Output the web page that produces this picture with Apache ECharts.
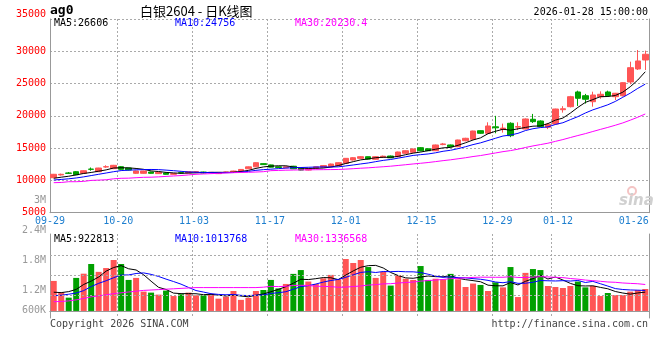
<!DOCTYPE html>
<html><head><meta charset="utf-8">
<script src="https://cdn.jsdelivr.net/npm/echarts@6/dist/echarts.min.js"></script>
<style>html,body{margin:0;padding:0;background:#fff}#c{width:660px;height:360px}</style>
</head><body><div id="c"></div>
<script>
// ---- data ----
const dates = ['09-29','09-30','10-09','10-10','10-13','10-14','10-15','10-16','10-17','10-20',
 '10-21','10-22','10-23','10-24','10-27','10-28','10-29','10-30','10-31','11-03',
 '11-04','11-05','11-06','11-07','11-10','11-11','11-12','11-13','11-14','11-17',
 '11-18','11-19','11-20','11-21','11-24','11-25','11-26','11-27','11-28','12-01',
 '12-02','12-03','12-04','12-05','12-08','12-09','12-10','12-11','12-12','12-15',
 '12-16','12-17','12-18','12-19','12-22','12-23','12-24','12-25','12-26','12-29',
 '12-30','12-31','01-05','01-06','01-07','01-08','01-09','01-12','01-13','01-14',
 '01-15','01-16','01-19','01-20','01-21','01-22','01-23','01-26','01-27','01-28'];
const openP = [10420,10850,11150,11350,11100,11750,11350,12080,11820,12125,
 11920,11100,11100,11300,11050,11150,10950,11200,11150,11300,
 11300,11200,11050,11250,11250,11450,11800,12100,12600,12400,
 12100,11950,12200,11900,11600,11900,12050,12125,12280,12650,
 13160,13420,13675,13270,13600,13780,13675,14200,14350,15070,
 14900,14600,15550,15490,15220,16150,16370,17700,17300,18300,
 17900,18850,18250,17965,19470,19200,18230,18740,20950,21420,
 23700,23120,22190,22970,23700,22970,23120,25245,27260,28650];
const closeP = [10950,10950,11100,10890,11500,11720,11920,12125,12340,11720,
 11615,11460,11460,11100,11250,10950,11050,11150,11350,11350,
 11150,11250,11200,11300,11450,11700,12100,12745,12450,12050,
 12000,12100,11800,11600,11800,12100,12300,12540,12745,13420,
 13520,13675,13300,13675,13750,13500,14400,14600,14870,14600,
 14600,15490,15650,15220,16260,16525,17655,17300,18430,18150,
 18100,16930,18350,19515,19100,18320,18700,21060,21100,22970,
 22720,22570,23230,23340,23120,23500,25140,27460,28500,29540];
const lowP = [10350,10750,11000,10850,11050,11500,11300,11950,11750,11650,
 11550,11000,11050,11050,11000,10900,10900,11100,11100,11250,
 11100,11150,11000,11200,11200,11400,11750,12050,12400,12000,
 11950,11900,11750,11550,11550,11850,12000,12050,12200,12600,
 13100,13350,13250,13200,13500,13450,13600,14100,14300,14500,
 14550,14550,15450,15150,15150,16050,16300,17200,17200,17300,
 17400,16700,17800,17900,18900,18250,17950,18600,20500,21300,
 21530,21900,21420,22650,22970,22450,23000,24890,27100,27100];
const highP = [11000,11050,11300,11450,11550,12000,11950,12350,12400,12200,
 11950,11500,11500,11350,11300,11200,11100,11350,11400,11450,
 11350,11300,11250,11350,11500,11750,12150,12800,12650,12450,
 12150,12150,12250,11950,11850,12150,12350,12600,12800,13450,
 13600,13750,13700,13750,13850,13850,14450,14650,14950,15150,
 14950,15550,15800,15550,16300,16600,17700,17750,19000,20000,
 18800,19000,19000,19600,20300,19300,18900,21100,21500,23100,
 23900,23400,23740,23800,23900,23550,25200,28390,30200,30100];
const volume = [1490000,930000,660000,1640000,1850000,2330000,1940000,2130000,2530000,2330000,
 1540000,1640000,960000,910000,810000,1010000,740000,830000,910000,780000,
 780000,840000,610000,710000,990000,550000,650000,990000,1040000,1540000,
 1120000,1340000,1840000,2030000,1460000,1340000,1620000,1790000,1570000,2580000,
 2380000,2530000,2180000,1640000,1940000,1260000,1770000,1600000,1540000,2230000,
 1540000,1600000,1570000,1840000,1570000,1190000,1360000,1290000,990000,1420000,
 1170000,2180000,690000,1890000,2080000,2030000,1240000,1190000,1140000,1240000,
 1460000,1170000,1240000,740000,890000,790000,790000,960000,1040000,1090000];
// moving-average values before a full window exists
const priceMa5Head = [10330,10500,10650,10850];
const priceMa10Head = [10065,10150,10250,10380,10550,10750,10950,11150,11350];
const priceMa30Head = [9650,9680,9800,9800,9850,10000,10050,10100,10250,10330,
 10350,10420,10480,10500,10550,10620,10690,10750,10850,10950,
 11000,11050,11100,11150,11200,11230,11260,11300,11350];
const volMa5Head = [930000,910000,960000,1070000];
const volMa10Head = [760000,780000,830000,890000,1010000,1210000,1370000,1500000,1650000];
const volMa30Head = [460000,470000,500000,550000,620000,700000,750000,800000,860000,900000,
 940000,980000,1020000,1040000,1060000,1080000,1100000,1120000,1140000,1160000,
 1160000,1160000,1160000,1160000,1160000,1160000,1160000,1160000,1180000];
const labelDates = ['09-29','10-20','11-03','11-17','12-01','12-15','12-29','01-12','01-26'];
const gridDates = ['10-20','11-03','11-17','12-01','12-15','12-29','01-12'];
const volGridVals = [790000, 1785000, 2780000];
const volTickLabels = ['3M','2.4M','1.8M','1.2M','600K'];
const priceLegend = ['MA5:26606','MA10:24756','MA30:20230.4'];
const volLegend = ['MA5:922813','MA10:1013768','MA30:1336568'];

// ---- helpers ----
function movingAvg(src, n, head) {
  return src.map((v, i) => {
    if (i < n - 1) return head[i];
    let s = 0; for (let k = i - n + 1; k <= i; k++) s += src[k];
    return +(s / n).toFixed(1);
  });
}
const ohlc = dates.map((d, i) => [openP[i], closeP[i], lowP[i], highP[i]]);
const UP = '#FF5555', DOWN = '#00A000';
const MONO = '"DejaVu Sans Mono", monospace';
const GRIDC = '#aaaaaa', FRAME = '#999999';
const volMin = -350000, volMax = 3820000;

const chart = echarts.init(document.getElementById('c'), null, {renderer: 'canvas'});
const dash = {color: GRIDC, type: [2, 2], width: 1};

function txt(x, y, text, fill, font, align) {
  return {type: 'text', x: x, y: y, silent: true, z: 100,
    style: {text: text, fill: fill, font: font, align: align || 'left', verticalAlign: 'middle'}};
}
const legendX = [54, 175, 295];
const legendC = ['#000000', '#0000FF', '#FF00FF'];
const volLabelY = [200.7, 230.7, 260.7, 290.7, 310.7];
const graphics = [
  txt(50, 11, 'ag0', '#000', 'bold 13px ' + MONO),
  txt(140, 11, '白银2604 - 日K线图', '#000', '13px "Noto Sans CJK SC"'),
  txt(648, 12, '2026-01-28 15:00:00', '#000', '10px ' + MONO, 'right'),
  txt(50, 324, 'Copyright 2026 SINA.COM', '#444', '10px ' + MONO),
  txt(648, 324, 'http://finance.sina.com.cn', '#444', '10px ' + MONO, 'right'),
  {type: 'circle', silent: true, z: 5, shape: {cx: 632, cy: 191, r: 4},
   style: {fill: 'none', stroke: '#f4c4c4', lineWidth: 2}},
  txt(619, 201, 'sina', '#d0d0d0', 'italic bold 15px "DejaVu Sans"')
];
priceLegend.forEach((t, i) => graphics.push(txt(legendX[i], 23.5, t, legendC[i], '10px ' + MONO)));
volLegend.forEach((t, i) => graphics.push(txt(legendX[i], 239, t, legendC[i], '10px ' + MONO)));
volTickLabels.forEach((t, i) => graphics.push(txt(46, volLabelY[i], t, '#999', '10px ' + MONO, 'right')));

const lineS = (name, data, color, xi, yi) => ({
  name: name, type: 'line', data: data, xAxisIndex: xi, yAxisIndex: yi, symbol: 'none',
  silent: true, z: 4, lineStyle: {color: color, width: 1}, emphasis: {disabled: true}
});
const gridSplit = {show: true, interval: (i, v) => gridDates.includes(v), lineStyle: dash};
const frameAxis = (extra) => Object.assign({
  axisLine: {show: true, lineStyle: {color: FRAME}}, axisTick: {show: false},
  axisLabel: {show: false}, splitLine: {show: false}}, extra);

const option = {
  animation: false,
  backgroundColor: '#ffffff',
  grid: [
    {left: 50, top: 19, width: 599, height: 193.7},
    {left: 50, top: 234, width: 599, height: 84}
  ],
  xAxis: [
    frameAxis({type: 'category', gridIndex: 0, data: dates, boundaryGap: true, position: 'bottom',
      splitLine: gridSplit}),
    frameAxis({type: 'category', gridIndex: 1, data: dates, boundaryGap: true, position: 'bottom',
      splitLine: gridSplit}),
    frameAxis({type: 'category', gridIndex: 1, data: dates, position: 'top', boundaryGap: true}),
    // helper category axis (point positions) for the date labels
    {type: 'category', gridIndex: 0, data: dates, boundaryGap: false, position: 'bottom',
     axisLine: {show: false}, axisTick: {show: false}, splitLine: {show: false},
     axisLabel: {interval: (i, v) => labelDates.includes(v), color: '#1E7FCF',
       fontFamily: MONO, fontSize: 10, margin: 4}}
  ],
  yAxis: [
    {type: 'value', gridIndex: 0, min: 5000, max: 35000, interval: 5000,
     axisLine: {show: true, lineStyle: {color: FRAME}}, axisTick: {show: false},
     axisLabel: {color: '#FF0000', fontFamily: MONO, fontSize: 10, margin: 4,
       verticalAlignMaxLabel: 'bottom', formatter: v => String(v)},
     splitLine: {show: true, lineStyle: dash}},
    frameAxis({type: 'value', gridIndex: 0, position: 'right', min: 5000, max: 35000}),
    frameAxis({type: 'value', gridIndex: 1, min: volMin, max: volMax}),
    frameAxis({type: 'value', gridIndex: 1, position: 'right', min: volMin, max: volMax})
  ],
  graphic: graphics,
  series: [
    {name: 'K', type: 'candlestick', data: ohlc, xAxisIndex: 0, yAxisIndex: 0,
     barWidth: 6, z: 3, silent: true,
     itemStyle: {color: UP, color0: DOWN, borderColor: UP, borderColor0: DOWN, borderWidth: 1}},
    lineS('MA5', movingAvg(closeP, 5, priceMa5Head), '#000000', 0, 0),
    lineS('MA10', movingAvg(closeP, 10, priceMa10Head), '#0000FF', 0, 0),
    lineS('MA30', movingAvg(closeP, 30, priceMa30Head), '#FF00FF', 0, 0),
    {name: 'VOL', type: 'bar', data: volume, xAxisIndex: 1, yAxisIndex: 2, barWidth: 6, z: 3,
     silent: true,
     itemStyle: {color: p => closeP[p.dataIndex] >= openP[p.dataIndex] ? UP : DOWN},
     markLine: {silent: true, symbol: ['none', 'none'], label: {show: false},
       lineStyle: dash, data: volGridVals.map(v => ({yAxis: v}))}},
    lineS('VMA5', movingAvg(volume, 5, volMa5Head), '#000000', 1, 2),
    lineS('VMA10', movingAvg(volume, 10, volMa10Head), '#0000FF', 1, 2),
    lineS('VMA30', movingAvg(volume, 30, volMa30Head), '#FF00FF', 1, 2)
  ]
};
chart.setOption(option);
</script>
</body></html>
